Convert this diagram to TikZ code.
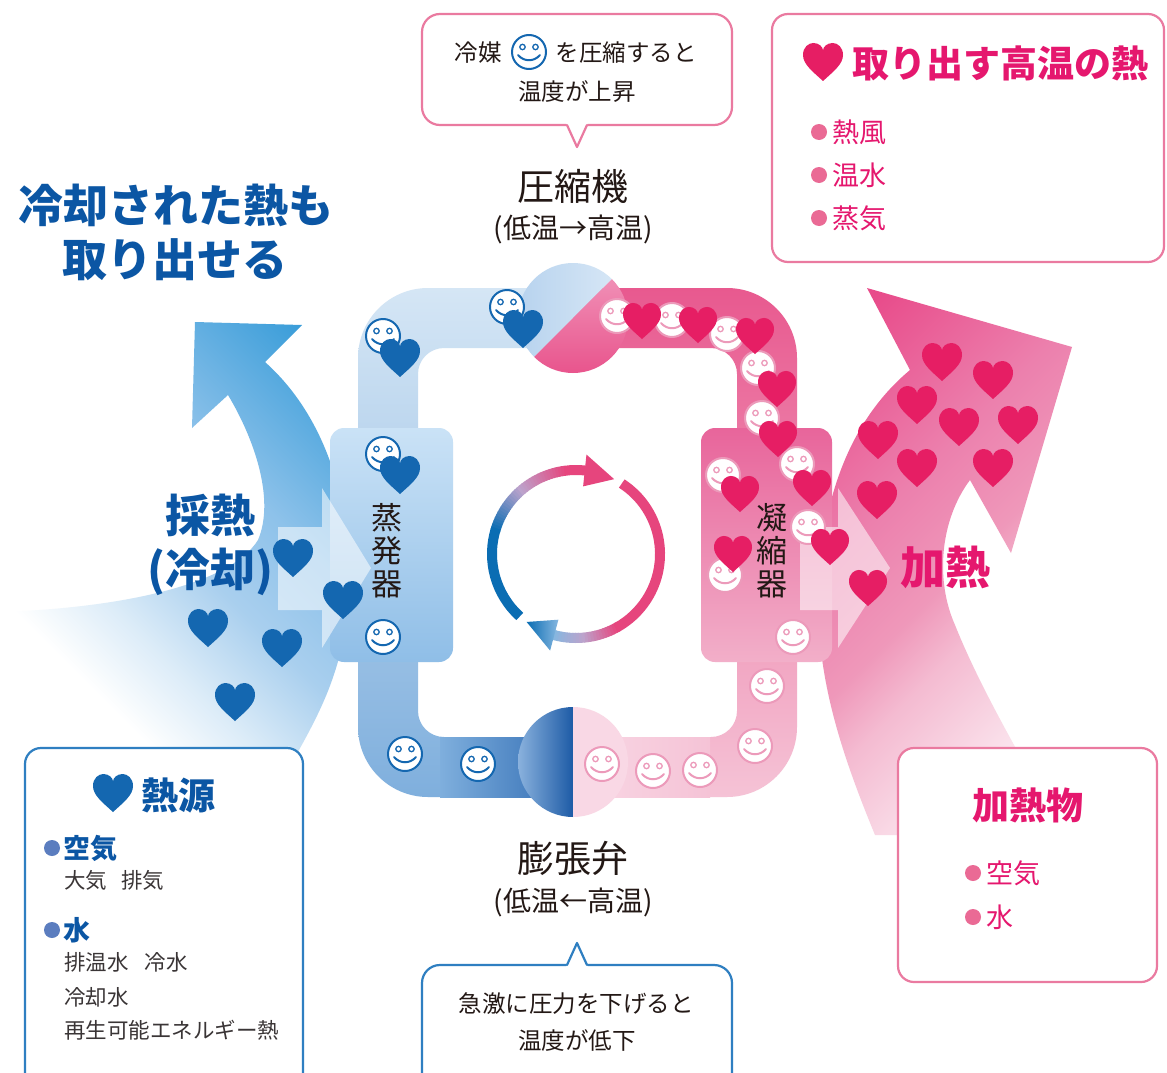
\documentclass[tikz,border=0pt]{standalone}
\usepackage{fontspec}
\setmainfont{Noto Sans CJK JP}
\usepackage{tikz}
\usetikzlibrary{calc}
\definecolor{ink}{HTML}{231815}
\definecolor{grayink}{HTML}{3A3536}
\definecolor{coolhead}{HTML}{0B56A4}
\definecolor{coolheart}{HTML}{1467B0}
\definecolor{coolline}{HTML}{2F7FC1}
\definecolor{cooldot}{HTML}{5B7DBF}
\definecolor{hotheart}{HTML}{E61E64}
\definecolor{hottext}{HTML}{E5176E}
\definecolor{hotline}{HTML}{EA7AA0}
\definecolor{hotdot}{HTML}{EA6A95}
\definecolor{hotface}{HTML}{EC9ABA}
\definecolor{pipecoolA}{HTML}{D5E6F5}
\definecolor{pipecoolB}{HTML}{7FAFDD}
\definecolor{pipecoolC}{HTML}{2E6AB2}
\definecolor{pipehotA}{HTML}{E8598F}
\definecolor{pipehotB}{HTML}{F5C3D6}
\definecolor{pipehotC}{HTML}{F9D8E5}
\definecolor{compcoolA}{HTML}{B6D2EE}
\definecolor{compcoolB}{HTML}{DCEAF7}
\definecolor{comphotA}{HTML}{F29BBE}
\definecolor{comphotB}{HTML}{E8528B}
\definecolor{valvecoolA}{HTML}{8CB3DE}
\definecolor{valvecoolB}{HTML}{1D5BA6}
\definecolor{evapA}{HTML}{CAE2F6}
\definecolor{evapB}{HTML}{8FBEE7}
\definecolor{condA}{HTML}{E8659B}
\definecolor{condB}{HTML}{F2AFC9}
\definecolor{coolA}{HTML}{DCECF8}
\definecolor{coolB}{HTML}{A9CFEE}
\definecolor{coolC}{HTML}{8EC2EA}
\definecolor{coolD}{HTML}{3A9DD9}
\definecolor{hotA}{HTML}{E84B8A}
\definecolor{hotB}{HTML}{EC80AD}
\definecolor{hotC}{HTML}{EF98BA}
\definecolor{hotD}{HTML}{F4BBD1}
\definecolor{hotE}{HTML}{FBE5EE}
\definecolor{cycblue}{HTML}{0A6DB3}
\definecolor{cyclav}{HTML}{BCA3CC}
\definecolor{cycpink}{HTML}{E6457D}
\definecolor{cyclight}{HTML}{86B7E0}
% broad flows of heat in and out
\pgfdeclarehorizontalshading{coolflow}{100bp}{color(0bp)=(white); color(30bp)=(white);
  color(39bp)=(coolA); color(50bp)=(coolB); color(61bp)=(coolC); color(80bp)=(coolD); color(100bp)=(coolD)}
\pgfdeclarehorizontalshading{hotflow}{100bp}{color(0bp)=(hotA); color(20bp)=(hotA);
  color(40bp)=(hotB); color(52bp)=(hotC); color(59bp)=(hotD); color(73bp)=(hotE); color(85bp)=(white); color(100bp)=(white)}
\tikzset{
    every picture/.style={line cap=round,line join=round},
    headline/.style={font=\bfseries\fontsize{45}{50}\selectfont,text=coolhead,inner sep=0pt},
    caption/.style={font=\fontsize{37}{42}\selectfont,text=ink,inner sep=0pt},
    subcaption/.style={font=\fontsize{28}{32}\selectfont,text=ink,inner sep=0pt},
    unitname/.style={font=\fontsize{31}{33}\selectfont,text=ink,align=center,inner sep=0pt},
    note/.style={font=\fontsize{23.5}{28}\selectfont,text=ink,inner sep=0pt},
    boxtitle/.style={font=\bfseries\fontsize{37}{42}\selectfont,inner sep=0pt,anchor=west},
    item/.style={font=\fontsize{27}{30}\selectfont,inner sep=0pt,anchor=west},
    small/.style={font=\fontsize{21.5}{26}\selectfont,text=grayink,inner sep=0pt,anchor=west},
    infobox/.style={draw,fill=white,line width=2.2pt,rounded corners=16pt},
    bubble/.style={draw,fill=white,line width=2.2pt,rounded corners=18pt},
    cyclestroke/.style={line width=10pt,line cap=butt},
    sidearrow/.style={fill=white,fill opacity=0.55},
    heart/.pic={\fill[#1] (0,0.95) .. controls (-0.55,0.45) and (-1,0.1) .. (-1,-0.35)
      .. controls (-1,-0.75) and (-0.72,-0.95) .. (-0.48,-0.95)
      .. controls (-0.2,-0.95) and (0,-0.75) .. (0,-0.58)
      .. controls (0,-0.75) and (0.2,-0.95) .. (0.48,-0.95)
      .. controls (0.72,-0.95) and (1,-0.75) .. (1,-0.35)
      .. controls (1,0.1) and (0.55,0.45) .. (0,0.95) -- cycle;},
    face/.pic={
      \draw[#1,fill=white,line width=2pt] (0,0) circle[radius=17];
      \draw[#1,line width=1.3pt] (-6.5,-5) circle[radius=2.7] (6.5,-5) circle[radius=2.7];
      \draw[#1,line width=2pt] (-11,3) .. controls (-5,10) and (5,10) .. (11,3);}
}

\begin{document}
\begin{tikzpicture}[x=1pt,y=-1pt]
  \useasboundingbox (0,0) rectangle (1167,1073);
  \fill[white] (0,0) rectangle (1167,1073);

  % heat taken in (left) and heat given out (right)
  \shade[shading=coolflow,shading angle=45]
    (0,612) .. controls (120,608) and (230,585) .. (258,540)
    .. controls (275,500) and (255,440) .. (228,395)
    -- (192,428) -- (195,322) -- (302,325) -- (265,362)
    .. controls (330,420) and (360,520) .. (345,630)
    .. controls (335,690) and (310,730) .. (285,775)
    -- (0,775) -- cycle;
  \shade[shading=hotflow,shading angle=-45]
    (875,835) .. controls (840,750) and (818,680) .. (818,600)
    .. controls (820,500) and (850,420) .. (910,370)
    -- (867,288) -- (1072,347) -- (1011,553) -- (970,480)
    .. controls (940,520) and (935,580) .. (955,625)
    .. controls (975,675) and (1005,730) .. (1045,800)
    -- (1060,835) -- cycle;

  % refrigerant loop
  \begin{scope}
    \clip (340,270) rectangle (573,815);
    \shade[top color=pipecoolA,bottom color=pipecoolB,even odd rule,rounded corners=70pt]
      (358,288) rectangle (797,797) [rounded corners=26pt] (418,348) rectangle (737,737);
    \shade[left color=pipecoolB,right color=pipecoolC] (440,737) rectangle (573,797);
  \end{scope}
  \begin{scope}
    \clip (573,270) rectangle (815,815);
    \shade[top color=pipehotA,bottom color=pipehotB,even odd rule,rounded corners=70pt]
      (358,288) rectangle (797,797) [rounded corners=26pt] (418,348) rectangle (737,737);
    \shade[left color=pipehotC,right color=pipehotB] (573,737) rectangle (710,797);
  \end{scope}

  % compressor and expansion valve
  \begin{scope}
    \clip (573,318) circle[radius=55];
    \shade[left color=compcoolA,right color=compcoolB] (514,259) -- (632,259) -- (514,377) -- cycle;
    \shade[top color=comphotA,bottom color=comphotB] (632,259) -- (632,377) -- (514,377) -- cycle;
  \end{scope}
  \begin{scope}
    \clip (573,762) circle[radius=55];
    \shade[left color=valvecoolA,right color=valvecoolB] (517,706) rectangle (573,818);
    \fill[pipehotC] (573,706) rectangle (629,818);
  \end{scope}

  % evaporator and condenser
  \shade[top color=evapA,bottom color=evapB,rounded corners=14pt] (330,428) rectangle (453,662);
  \shade[top color=condA,bottom color=condB,rounded corners=14pt] (701,428) rectangle (832,662);
  \fill[sidearrow] (278,527) -- (322,527) -- (322,488) -- (371,568) -- (322,648) -- (322,610) -- (278,610) -- cycle;
  \fill[sidearrow] (800,527) -- (838,527) -- (838,488) -- (890,568) -- (838,648) -- (838,610) -- (800,610) -- cycle;

  % refrigerant and heat
  \foreach \x/\y in {383/336,507/307,383/454,383/637,405/754,478/764}
    \pic at (\x,\y) {face=coolheart};
  \foreach \x/\y in {617/316,672/320,727/334,758/368,762/418,797/464,723/475,808/527,
                     725/575,793/637,767/686,755/746,700/770,653/771,602/764}
    \pic at (\x,\y) {face=hotface};
  \foreach \x/\y in {400/358,523/329,400/475,293/558,343/600,208/628,282/648,235/702}
    \pic[scale=20] at (\x,\y) {heart=coolheart};
  \foreach \x/\y in {642/321,698/325,755/336,777/389,778/439,812/488,740/494,733/554,830/547,868/588}
    \pic[scale=19] at (\x,\y) {heart=hotheart};
  \foreach \x/\y in {942/362,993/380,917/405,959/427,1018/425,878/440,917/468,993/468,877/500}
    \pic[scale=20] at (\x,\y) {heart=hotheart};

  % cycle
  \coordinate (hub) at (576,554);
  \draw[cyclestroke,cycblue] (hub) ++(132:84) arc[start angle=132,end angle=197,radius=84];
  \foreach \a in {196,198,...,226}{
    \pgfmathtruncatemacro\p{(\a-196)*100/32}
    \draw[cyclestroke,cyclav!\p!cycblue] (hub) ++(\a:84) arc[start angle=\a,end angle=\a+2.6,radius=84];
  }
  \foreach \a in {228,230,...,260}{
    \pgfmathtruncatemacro\p{(\a-228)*100/34}
    \draw[cyclestroke,cycpink!\p!cyclav] (hub) ++(\a:84) arc[start angle=\a,end angle=\a+2.6,radius=84];
  }
  \draw[cyclestroke,cycpink] (hub) ++(262:84) arc[start angle=262,end angle=277,radius=84];
  \fill[cycpink] ($(hub)+(276:100)$) -- ($(hub)+(297:84)$) -- ($(hub)+(276:68)$) -- cycle;
  \draw[cyclestroke,cycpink] (hub) ++(303:84) arc[start angle=303,end angle=421,radius=84];
  \foreach \a in {420,422,...,442}{
    \pgfmathtruncatemacro\p{(\a-420)*100/24}
    \draw[cyclestroke,cyclav!\p!cycpink] (hub) ++(\a:84) arc[start angle=\a,end angle=\a+2.6,radius=84];
  }
  \foreach \a in {444,446,...,464}{
    \pgfmathtruncatemacro\p{(\a-444)*100/20}
    \draw[cyclestroke,cyclight!\p!cyclav] (hub) ++(\a:84) arc[start angle=\a,end angle=\a+2.6,radius=84];
  }
  \shade[left color=cycblue,right color=cyclight] ($(hub)+(465:100)$) -- ($(hub)+(486:84)$) -- ($(hub)+(465:68)$) -- cycle;

  % labels on the loop
  \node[headline] (liftA) at (176,205) {冷却された熱も};
  \node[headline] (liftB) at (175,260) {取り出せる};
  \node[headline] (takeA) at (210,515) {採熱};
  \node[headline] (takeB) at (210,572) {(冷却)};
  \node[headline,text=hottext] (giveA) at (945,567) {加熱};
  \node[unitname] (evapname) at (387,551) {蒸\\発\\器};
  \node[unitname] (condname) at (772,551) {凝\\縮\\器};
  \node[caption] (compname) at (573,186) {圧縮機};
  \node[subcaption] (compnote) at (573,229) {(低温→高温)};
  \node[caption] (valvename) at (573,858) {膨張弁};
  \node[subcaption] (valvenote) at (573,902) {(低温←高温)};

  % speech bubbles
  \draw[bubble,draw=hotline] (422,14) rectangle (732,125);
  \fill[white] (565,121) -- (589,121) -- (577,146) -- cycle;
  \draw[hotline,line width=2.2pt] (567,125) -- (577,147) -- (587,125);
  \node[note] (pushA) at (478,53) {冷媒};
  \pic at (529,52) {face=coolheart};
  \node[note] (pushB) at (626,53) {を圧縮すると};
  \node[note] (pushC) at (577,92) {温度が上昇};
  \draw[bubble,draw=coolline] (422,965) rectangle (732,1095);
  \fill[white] (565,969) -- (589,969) -- (577,944) -- cycle;
  \draw[coolline,line width=2.2pt] (567,965) -- (577,943) -- (587,965);
  \node[note] (dropA) at (576,1004) {急激に圧力を下げると};
  \node[note] (dropB) at (577,1041) {温度が低下};

  % what is taken out
  \draw[infobox,draw=hotline] (772,14) rectangle (1164,262);
  \pic[scale=20] at (823,62) {heart=hotheart};
  \node[boxtitle,text=hottext] (outtitle) at (852,63) {取り出す高温の熱};
  \foreach \y/\t [count=\i] in {132/熱風,175/温水,218/蒸気}{
    \fill[hotdot] (819,\y) circle[radius=8];
    \node[item,text=hottext] (out\i) at (832,\y) {\t};
  }

  % heat sources
  \draw[infobox,draw=coolline] (25,748) rectangle (303,1100);
  \pic[scale=20] at (113,793) {heart=coolheart};
  \node[boxtitle,text=coolhead] (srctitle) at (141,795) {熱源};
  \fill[cooldot] (52,848) circle[radius=8];
  \node[item,font=\bfseries\fontsize{27}{30}\selectfont,text=coolhead] (srcair) at (63,848) {空気};
  \node[small] (srcairlist) at (64,880) {大気\hspace{14pt}排気};
  \fill[cooldot] (52,930) circle[radius=8];
  \node[item,font=\bfseries\fontsize{27}{30}\selectfont,text=coolhead] (srcwater) at (63,930) {水};
  \node[small] (srcwaterA) at (64,962) {排温水\hspace{16pt}冷水};
  \node[small] (srcwaterB) at (64,997) {冷却水};
  \node[small] (srcwaterC) at (64,1030) {再生可能エネルギー熱};

  % what is heated
  \draw[infobox,draw=hotline] (898,748) rectangle (1157,982);
  \node[boxtitle,anchor=center,text=hottext] (loadtitle) at (1028,805) {加熱物};
  \foreach \y/\t [count=\i] in {873/空気,917/水}{
    \fill[hotdot] (973,\y) circle[radius=8];
    \node[item,text=hottext] (load\i) at (986,\y) {\t};
  }
\end{tikzpicture}
\end{document}
